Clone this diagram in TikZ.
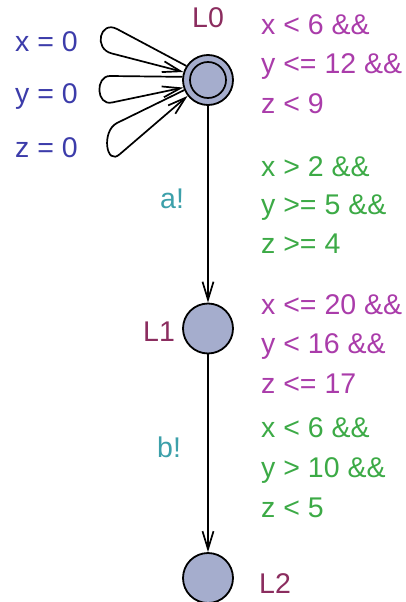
\documentclass[tikz,border=0pt]{standalone}
\usepackage{fontspec}
\setmainfont{Liberation Sans}
\usetikzlibrary{arrows.meta}
\definecolor{locname}{RGB}{139,45,95}
\definecolor{invcol}{RGB}{170,60,170}
\definecolor{guardcol}{RGB}{60,170,70}
\definecolor{synccol}{RGB}{60,160,170}
\definecolor{updcol}{RGB}{60,60,170}
\definecolor{locfill}{RGB}{165,173,205}
\begin{document}
\begin{tikzpicture}[x=1pt,y=-1pt,
  loc/.style={circle,draw=black,fill=locfill,line width=1.8pt,minimum size=50pt,inner sep=0pt},
  lbl/.style={anchor=base west,inner sep=0pt,align=left,font=\fontsize{28.5}{39.5}\selectfont},
  edge/.style={line width=1.7pt,-{Straight Barb[length=18pt,width=11pt,line width=1.7pt]}}]
\useasboundingbox (0,0) rectangle (406,602);
% locations
\node[loc] (L0) at (208,80) {};
\draw[line width=1.7pt] (L0.center) circle[radius=18pt];
\node[loc] (L1) at (208,328.5) {};
\node[loc] (L2) at (208,578) {};
% location names
\node[lbl,text=locname] (n0) at (192,28) {L0};
\node[lbl,text=locname] (n1) at (143,341) {L1};
\node[lbl,text=locname] (n2) at (259,593) {L2};
% invariants (anchored at the baseline of the last line)
\node[lbl,text=invcol] (i0) at (261,113) {x < 6 \&\&\\y <= 12 \&\&\\z < 9};
\node[lbl,text=invcol] (i1) at (261,393) {x <= 20 \&\&\\y < 16 \&\&\\z <= 17};
% guards
\node[lbl,text=guardcol,font=\fontsize{28.5}{38.5}\selectfont] (g0) at (261,253) {x > 2 \&\&\\y >= 5 \&\&\\z >= 4};
\node[lbl,text=guardcol,font=\fontsize{28.5}{40}\selectfont] (g1) at (261,517) {x < 6 \&\&\\y > 10 \&\&\\z < 5};
% syncs
\node[lbl,text=synccol] (s0) at (160,208) {a!};
\node[lbl,text=synccol] (s1) at (157,457) {b!};
% updates
\node[lbl,text=updcol] (u0) at (15,52) {x = 0};
\node[lbl,text=updcol] (u1) at (15,103) {y = 0};
\node[lbl,text=updcol] (u2) at (15,157) {z = 0};
% edges
\draw[edge] (L0) -- (L1);
\draw[edge] (L1) -- (L2);
\draw[edge] (L0.147) -- (117,29) .. controls (100,20) and (93,49) .. (112,53.5) -- (L0.162);
\draw[edge] (L0.173) -- (110,76) .. controls (95,76) and (96,106) .. (112,102.5) -- (L0.197);
\draw[edge] (L0.203) -- (117,123) .. controls (101,131) and (106,167) .. (120,154) -- (L0.218);
\end{tikzpicture}
\end{document}
